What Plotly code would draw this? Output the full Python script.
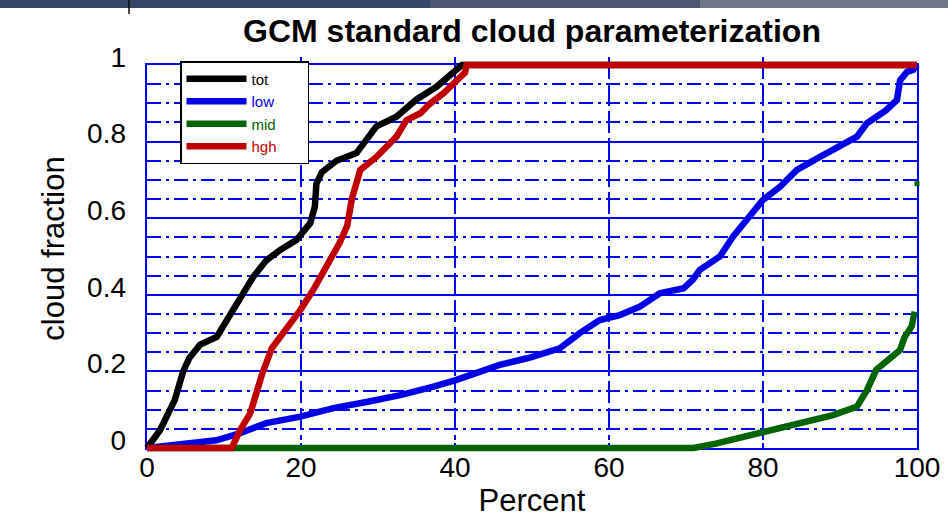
import plotly.graph_objects as go

# Cumulative cloud fraction curves (x = percent of samples, y = cloud fraction)
tot_x = [0, 1.7, 3.6, 4.7, 5.5, 6.9, 9.05, 10.35, 12.07, 13.8, 15.5, 17.3, 19.4, 21.2, 21.8, 22.0,
         22.7, 24.6, 27.2, 29.8, 32.4, 35.0, 37.6, 39.8, 40.9, 100]
tot_y = [0, 0.047, 0.125, 0.20, 0.235, 0.27, 0.29, 0.334, 0.395, 0.447, 0.49, 0.517, 0.543, 0.587,
         0.63, 0.69, 0.72, 0.75, 0.77, 0.84, 0.865, 0.91, 0.943, 0.98, 1.0, 1.0]

low_x = [0, 5.2, 9.0, 12.0, 15.5, 19.9, 24.2, 28.5, 32.9, 37.2, 40.2, 45.8, 49.5, 53.6, 56.2, 58.8,
         61.4, 64.0, 66.6, 69.7, 70.9, 71.8, 74.4, 76.1, 78.3, 80.0, 82.2, 84.4, 87.4, 90.0, 92.2,
         93.5, 96.0, 97.4, 97.8, 98.7, 99.5, 100]
low_y = [0, 0.013, 0.02, 0.038, 0.065, 0.082, 0.104, 0.12, 0.138, 0.16, 0.178, 0.217, 0.235, 0.26,
         0.30, 0.334, 0.347, 0.369, 0.404, 0.417, 0.44, 0.465, 0.50, 0.552, 0.604, 0.648, 0.682,
         0.726, 0.76, 0.787, 0.813, 0.848, 0.882, 0.909, 0.96, 0.982, 0.987, 1.0]

mid_x = [0, 71.0, 74.0, 77.9, 80.5, 83.1, 85.7, 89.1, 92.2, 93.5, 94.7, 96.5, 97.8, 98.4, 99.3, 99.7]
mid_y = [0, 0, 0.012, 0.03, 0.043, 0.056, 0.069, 0.086, 0.108, 0.151, 0.204, 0.234, 0.256, 0.29,
         0.317, 0.356]
mid_end_x = [100]
mid_end_y = [0.69]

hgh_x = [0, 11.0, 12.1, 13.4, 14.2, 14.9, 16.2, 18.1, 19.9, 21.6, 23.3, 25.0, 26.0, 26.6, 27.7,
         29.8, 32.4, 33.7, 35.5, 36.8, 38.5, 39.8, 41.3, 41.5, 100]
hgh_y = [0, 0, 0.047, 0.09, 0.143, 0.19, 0.26, 0.308, 0.36, 0.413, 0.473, 0.535, 0.58, 0.65, 0.726,
         0.76, 0.813, 0.856, 0.874, 0.90, 0.926, 0.95, 0.98, 1.0, 1.0]

x_ticks = [0, 20, 40, 60, 80, 100]
y_ticks = [0, 0.2, 0.4, 0.6, 0.8, 1]
y_tick_text = ["0", "0.2", "0.4", "0.6", "0.8", "1"]

BLACK = "#000000"
BLUE = "#0000e6"
GREEN = "#006400"
RED = "#c00000"
GRID = "#0000ff"
FONT = "Liberation Sans, Arial, sans-serif"
DASH = "14px,5px,3px,5px"

W, H = 948, 524
# frame of the axes box, in page pixels
box_l, box_r, box_t, box_b = 147, 917, 65, 448
pad = 4          # room around the box so thick curves on the edges are not cut
lab_shift = 8    # y tick labels sit a little above their gridlines

ml, mr = box_l - pad, W - box_r - pad
mt, mb = box_t - lab_shift, H - box_b - pad
plot_w = W - ml - mr
plot_h = H - mt - mb

x_range = [0, 100]
y_range = [0, 1]
x_per_px = (x_range[1] - x_range[0]) / (box_r - box_l)
y_per_px = (y_range[1] - y_range[0]) / (box_b - box_t)


def px_x(p):
    return (p - ml) / plot_w


def px_y(p):
    return (H - mb - p) / plot_h


fig = go.Figure()

series = [
    ("tot", tot_x, tot_y, BLACK),
    ("low", low_x, low_y, BLUE),
    ("mid", mid_x, mid_y, GREEN),
    ("hgh", hgh_x, hgh_y, RED),
]
for name, xs, ys, col in series:
    fig.add_trace(go.Scatter(
        x=xs, y=ys, mode="lines", line=dict(color=col, width=6.5),
        name=f"<span style='color:{col}'>{name}</span>" + "&nbsp;" * 6,
        xaxis="x2", yaxis="y3",
    ))

# final mid value sits on the right edge
fig.add_trace(go.Scatter(
    x=mid_end_x, y=mid_end_y, mode="markers",
    marker=dict(color=GREEN, size=5, symbol="square"),
    showlegend=False, xaxis="x2", yaxis="y3",
))

# helper traces so the frame axes and the label axis get drawn
fig.add_trace(go.Scatter(x=[None], y=[None], xaxis="x", yaxis="y",
                         showlegend=False, hoverinfo="skip"))
fig.add_trace(go.Scatter(x=[None], y=[None], xaxis="x", yaxis="y2",
                         showlegend=False, hoverinfo="skip"))

hidden = dict(showgrid=False, zeroline=False, showline=False, ticks="",
              showticklabels=False, automargin=False)

fig.update_layout(
    width=W, height=H,
    margin=dict(l=ml, r=mr, t=mt, b=mb, autoexpand=False),
    paper_bgcolor="white",
    plot_bgcolor="rgba(0,0,0,0)",
    font=dict(family=FONT, color="black", size=28),
    title=dict(
        text="<b>GCM standard cloud parameterization</b>",
        x=0.5, xref="paper", xanchor="center",
        y=1 - 31 / H, yref="container", yanchor="middle",
        font=dict(family=FONT, size=32, color="black"),
    ),
    # frame, grid, ticks and x labels
    xaxis=dict(
        domain=[px_x(box_l), px_x(box_r)],
        range=x_range, tickvals=x_ticks, ticktext=[str(v) for v in x_ticks],
        showgrid=True, gridcolor=GRID, gridwidth=1.5, griddash=DASH,
        zeroline=False, showline=True, linecolor=GRID, linewidth=1.5, mirror=True,
        ticks="inside", ticklen=4, tickcolor=GRID,
        tickfont=dict(size=28, family=FONT), ticklabelstandoff=-6,
        title=dict(text="Percent", font=dict(size=31, family=FONT), standoff=7),
        anchor="y", layer="below traces", automargin=False,
    ),
    yaxis=dict(
        domain=[px_y(box_b), px_y(box_t)],
        range=y_range, tickvals=y_ticks, showticklabels=False,
        showgrid=True, gridcolor=GRID, gridwidth=1.5,
        minor=dict(dtick=0.05, showgrid=True, gridcolor=GRID, gridwidth=1.5,
                   griddash=DASH, ticks="inside", ticklen=4, tickcolor=GRID),
        zeroline=False, showline=True, linecolor=GRID, linewidth=1.5, mirror=True,
        ticks="inside", ticklen=4, tickcolor=GRID,
        anchor="x", layer="below traces", automargin=False,
    ),
    # y labels and title
    yaxis2=dict(
        domain=[px_y(box_b - lab_shift), px_y(box_t - lab_shift)],
        range=y_range, tickvals=y_ticks, ticktext=y_tick_text,
        showgrid=False, zeroline=False, showline=False, ticks="",
        tickfont=dict(size=28, family=FONT), ticklabelstandoff=20,
        title=dict(text="cloud fraction", font=dict(size=31, family=FONT), standoff=13),
        anchor="x", side="left", automargin=False,
    ),
    # data axes: same scale as the frame, a few pixels larger on each side
    xaxis2=dict(
        domain=[0, 1],
        range=[x_range[0] - pad * x_per_px, x_range[1] + pad * x_per_px],
        anchor="y3", **hidden,
    ),
    yaxis3=dict(
        domain=[0, px_y(box_t - pad)],
        range=[y_range[0] - pad * y_per_px, y_range[1] + pad * y_per_px],
        anchor="x2", **hidden,
    ),
    showlegend=True,
    legend=dict(
        x=px_x(180), xref="paper", xanchor="left",
        y=px_y(61), yref="paper", yanchor="top",
        bgcolor="white", bordercolor="black", borderwidth=1.5,
        font=dict(family=FONT, size=15, color="black"),
        itemwidth=60, tracegroupgap=0,
    ),
    shapes=[
        dict(type="rect", xref="paper", yref="paper", x0=px_x(0), x1=px_x(430),
             y0=px_y(8), y1=px_y(0),
             fillcolor="#34466a", line=dict(width=0), layer="below"),
        dict(type="rect", xref="paper", yref="paper", x0=px_x(430), x1=px_x(700),
             y0=px_y(8), y1=px_y(0),
             fillcolor="#4a5873", line=dict(width=0), layer="below"),
        dict(type="rect", xref="paper", yref="paper", x0=px_x(700), x1=px_x(W),
             y0=px_y(8), y1=px_y(0),
             fillcolor="#6c7686", line=dict(width=0), layer="below"),
        dict(type="line", xref="paper", yref="paper", x0=px_x(129), x1=px_x(129),
             y0=px_y(14), y1=px_y(0), line=dict(color="#111111", width=1.5)),
    ],
)

fig.write_html("out.html")
